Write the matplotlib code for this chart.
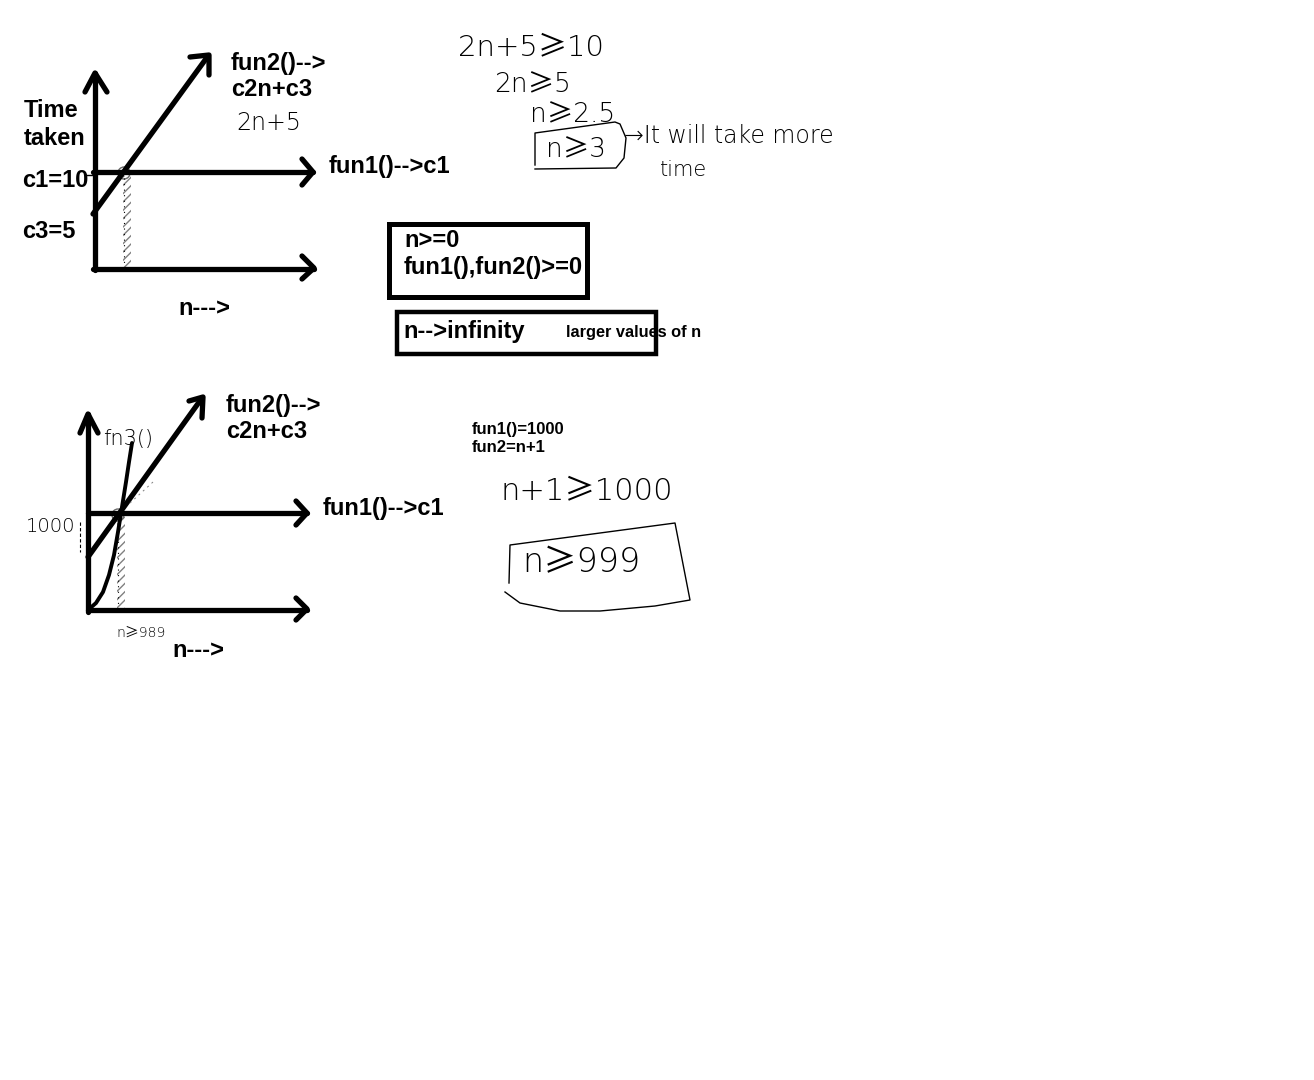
import matplotlib
matplotlib.use("Agg")
import matplotlib.pyplot as plt
from matplotlib.patches import Rectangle, Circle

# sketch strokes, in pixel coordinates of the whiteboard (y grows downward)
# --- top diagram ---
top_y_axis = [(95, 270), (95, 73)]
top_y_head = [(85, 92), (95, 73), (107, 92)]
top_x_axis = [(93, 269), (314, 269)]
top_x_head = [(302, 256), (314, 268), (302, 279)]
top_fun1 = [(93, 172), (313, 172)]
top_fun1_head = [(302, 159), (313, 172), (302, 185)]
top_fun2 = [(93, 214), (208, 56)]
top_fun2_head = [(190, 57), (209, 55), (209, 75)]
top_tick = [(87, 175), (95, 175)]

# --- bottom diagram ---
bot_y_axis = [(88, 612), (88, 414)]
bot_y_head = [(80, 433), (88, 414), (98, 433)]
bot_x_axis = [(88, 610), (307, 610)]
bot_x_head = [(296, 598), (307, 609), (296, 620)]
bot_fun1 = [(88, 513), (307, 513)]
bot_fun1_head = [(296, 501), (307, 513), (296, 525)]
bot_fun2 = [(88, 557), (202, 398)]
bot_fun2_head = [(189, 401), (203, 397), (202, 418)]
bot_fun3_x = [88, 96, 103, 109, 114, 118, 122, 126, 129, 132]
bot_fun3_y = [610, 603, 592, 575, 555, 532, 507, 482, 462, 443]
bot_tick = [(80, 522), (80, 552)]

# hand drawn boxes
box_n3_x = [535, 535, 615, 620, 626, 624, 616, 535]
box_n3_y = [165, 133, 122, 124, 138, 158, 168, 169]
box_n999_x = [509, 510, 675, 690, 655, 600, 560, 520, 505]
box_n999_y = [583, 545, 523, 600, 606, 611, 611, 603, 592]

# printed labels: (text, x, baseline y, size)
bold_labels = [
    ("Time", 24, 117, 17), ("taken", 24, 145, 17),
    ("c1=10", 22, 187, 17), ("c3=5", 22, 238, 17),
    ("n--->", 178, 315, 17),
    ("fun2()-->", 231, 70, 17), ("c2n+c3", 231, 96, 17),
    ("fun1()-->c1", 329, 173, 17),
    ("n>=0", 404, 247, 17), ("fun1(),fun2()>=0", 404, 274, 17),
    ("n-->infinity", 403, 338, 17), ("larger values of n", 566, 337, 11.8),
    ("fun2()-->", 226, 412, 17), ("c2n+c3", 226, 438, 17),
    ("fun1()-->c1", 323, 515, 17), ("n--->", 172, 657, 17),
    ("fun1()=1000", 472, 434, 12), ("fun2=n+1", 472, 452, 12),
]

# handwritten notes: (text, x, baseline y, size)
hand_labels = [
    ("2n+5≥10", 458, 55, 21), ("2n≥5", 494, 92, 19), ("n≥2.5", 530, 122, 19),
    ("n≥3", 546, 157, 19), ("→It will take more", 624, 143, 17),
    ("time", 660, 176, 15),
    ("2n+5", 236, 130, 17),
    ("fn3()", 103, 445, 15), ("1000", 26, 532, 14), ("n≥989", 116, 637, 10),
    ("n+1≥1000", 501, 499, 22), ("n≥999", 522, 572, 24),
]

fig = plt.figure(figsize=(13.14, 10.8), dpi=100)
ax = fig.add_axes([0, 0, 1, 1])
ax.set_xlim(0, 1314)
ax.set_ylim(1080, 0)
ax.axis("off")

thick = dict(color="black", lw=3.8, solid_capstyle="round", solid_joinstyle="round")
strokes = [top_y_axis, top_y_head, top_x_axis, top_x_head, top_fun1, top_fun1_head,
           top_fun2, top_fun2_head,
           bot_y_axis, bot_y_head, bot_x_axis, bot_x_head, bot_fun1, bot_fun1_head,
           bot_fun2, bot_fun2_head]
for s in strokes:
    xs, ys = zip(*s)
    ax.plot(xs, ys, **thick)

ax.plot(bot_fun3_x, bot_fun3_y, color="black", lw=2.8, solid_capstyle="round")

xs, ys = zip(*top_tick)
ax.plot(xs, ys, color="black", lw=1)
xs, ys = zip(*bot_tick)
ax.plot(xs, ys, color="black", lw=0.8, ls=(0, (3, 2)))

# hatched drop lines at the crossing points
ax.add_patch(Rectangle((123, 176), 8, 92, hatch="////", fill=False, edgecolor="gray", lw=0))
ax.plot([124, 124], [178, 266], color="black", lw=0.8, ls=(0, (1, 4)))
ax.add_patch(Rectangle((117, 517), 8, 92, hatch="////", fill=False, edgecolor="gray", lw=0))
ax.plot([118, 118], [519, 607], color="black", lw=0.8, ls=(0, (1, 4)))
ax.plot([130, 153], [503, 482], color="gray", lw=0.7, ls=(0, (2, 4)))
ax.add_patch(Circle((124, 173), 6, fill=False, edgecolor="dimgray", lw=1))
ax.add_patch(Circle((118, 515), 6, fill=False, edgecolor="dimgray", lw=1))

# printed boxes
ax.add_patch(Rectangle((389, 224), 198, 73, fill=False, edgecolor="black", lw=3.6))
ax.add_patch(Rectangle((397, 312), 259, 42, fill=False, edgecolor="black", lw=3.2))

# hand drawn boxes
ax.plot(box_n3_x, box_n3_y, color="black", lw=1)
ax.plot(box_n999_x, box_n999_y, color="black", lw=1)

for t, x, y, sz in bold_labels:
    ax.text(x, y, t, fontsize=sz, fontweight="bold", family=["Liberation Sans", "DejaVu Sans"],
            ha="left", va="baseline")

for t, x, y, sz in hand_labels:
    ax.text(x, y, t, fontsize=sz, fontweight="light",
            family=["DejaVu Sans", "Noto Sans CJK SC", "Noto Sans"],
            ha="left", va="baseline", color="black")

fig.savefig("out.png", dpi=100)
